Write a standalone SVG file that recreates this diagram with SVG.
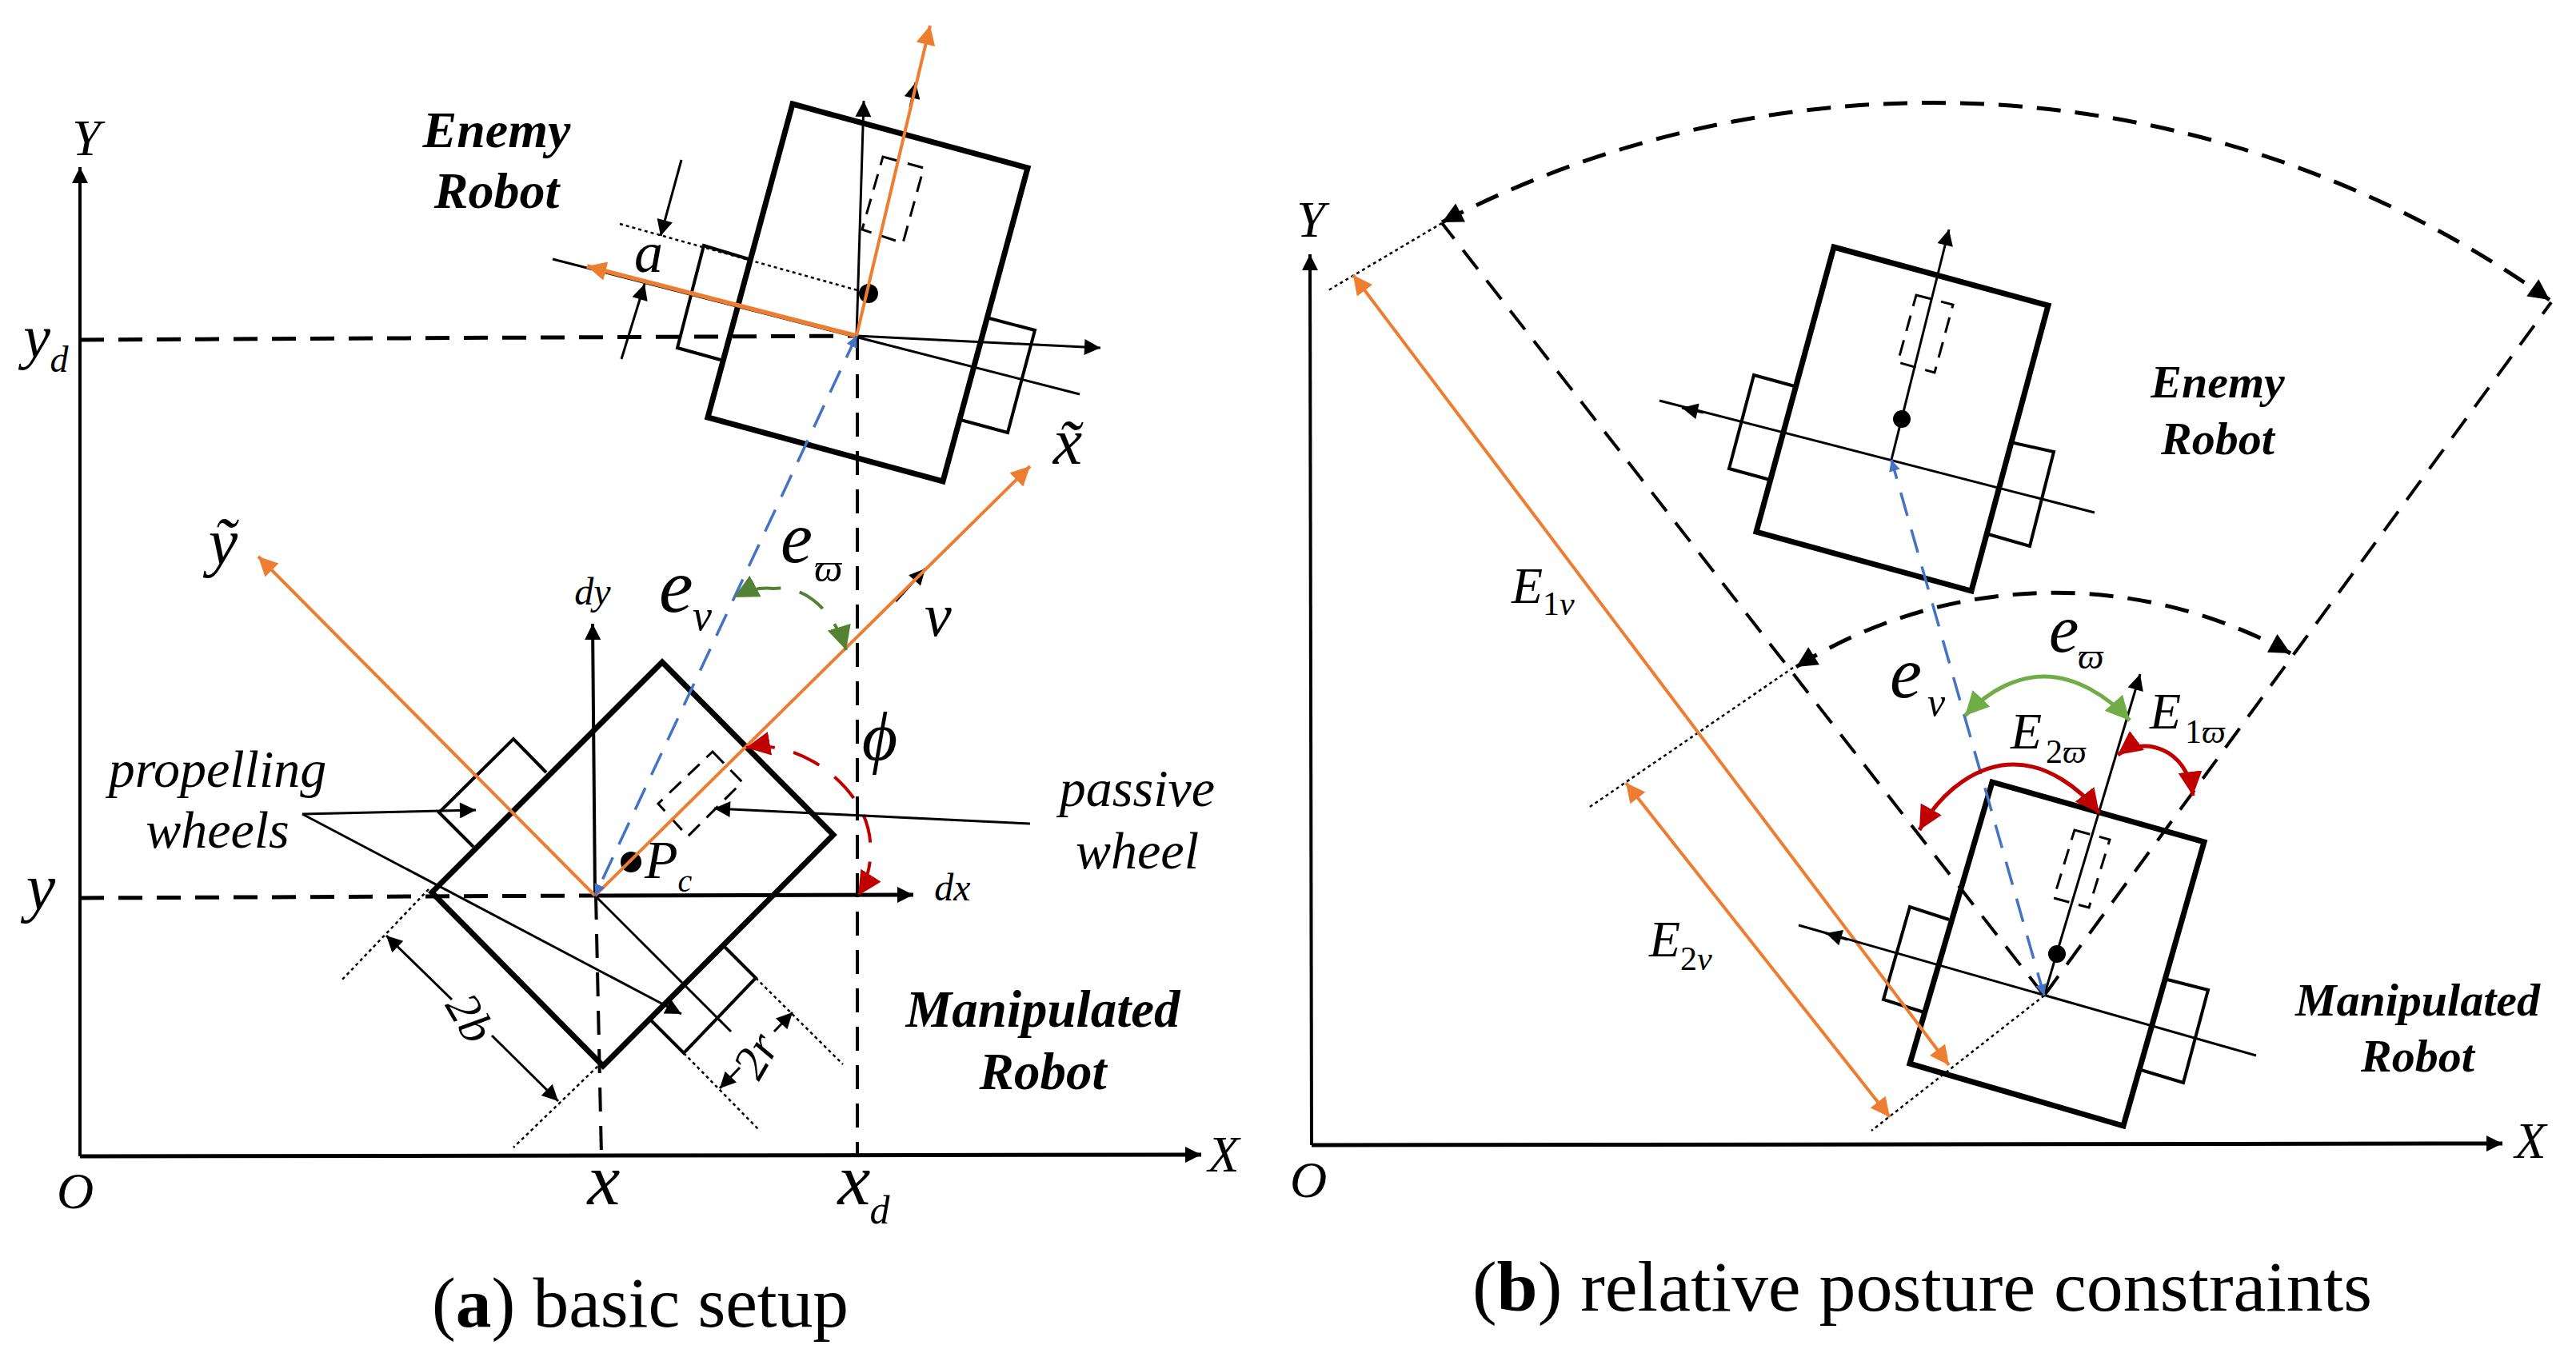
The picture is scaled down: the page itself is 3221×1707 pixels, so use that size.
<svg xmlns="http://www.w3.org/2000/svg" width="3221" height="1707" viewBox="0 0 3221 1707">
<style>
text{font-family:"Liberation Serif","Times New Roman",serif;fill:#000}
.i{font-style:italic}
.bi{font-style:italic;font-weight:bold}
.m{text-anchor:middle}
.body{fill:none;stroke:#000;stroke-width:7}
.wheel{fill:none;stroke:#000;stroke-width:4}
.pas{fill:none;stroke:#000;stroke-width:3;stroke-dasharray:20 12}
.l{fill:none;stroke:#000;stroke-width:3}
.ax{fill:none;stroke:#000;stroke-width:4}
.axb{fill:none;stroke:#000;stroke-width:5}
.dash{fill:none;stroke:#000;stroke-width:4;stroke-dasharray:30 18}
.dashb{fill:none;stroke:#000;stroke-width:5;stroke-dasharray:30 18}
.dot{fill:none;stroke:#000;stroke-width:2.5;stroke-dasharray:4 4}
.or{fill:none;stroke:#ED7D31;stroke-width:4}
.bl{fill:none;stroke:#4472C4;stroke-width:3.5;stroke-dasharray:30 18}
.gr{fill:none;stroke:#548235;stroke-width:4;stroke-dasharray:36 24}
.gl{fill:none;stroke:#70AD47;stroke-width:5}
.rd{fill:none;stroke:#C00000;stroke-width:4;stroke-dasharray:36 24}
.rs{fill:none;stroke:#C00000;stroke-width:5}
</style>
<defs>
<marker id="k" viewBox="0 0 10 10" refX="10" refY="5" markerWidth="22" markerHeight="20" markerUnits="userSpaceOnUse" orient="auto-start-reverse"><path d="M0,0L10,5L0,10z" fill="#000"/></marker>
<marker id="k2" viewBox="0 0 10 10" refX="10" refY="5" markerWidth="30" markerHeight="26" markerUnits="userSpaceOnUse" orient="auto-start-reverse"><path d="M0,0L10,5L0,10z" fill="#000"/></marker>
<marker id="o" viewBox="0 0 10 10" refX="10" refY="5" markerWidth="28" markerHeight="24" markerUnits="userSpaceOnUse" orient="auto-start-reverse"><path d="M0,0L10,5L0,10z" fill="#ED7D31"/></marker>
<marker id="b" viewBox="0 0 10 10" refX="10" refY="5" markerWidth="20" markerHeight="14" markerUnits="userSpaceOnUse" orient="auto-start-reverse"><path d="M0,0L10,5L0,10z" fill="#4472C4"/></marker>
<marker id="g" viewBox="0 0 10 10" refX="10" refY="5" markerWidth="30" markerHeight="30" markerUnits="userSpaceOnUse" orient="auto-start-reverse"><path d="M0,0L10,5L0,10z" fill="#548235"/></marker>
<marker id="gl" viewBox="0 0 10 10" refX="10" refY="5" markerWidth="30" markerHeight="30" markerUnits="userSpaceOnUse" orient="auto-start-reverse"><path d="M0,0L10,5L0,10z" fill="#70AD47"/></marker>
<marker id="r" viewBox="0 0 10 10" refX="10" refY="5" markerWidth="30" markerHeight="30" markerUnits="userSpaceOnUse" orient="auto-start-reverse"><path d="M0,0L10,5L0,10z" fill="#C00000"/></marker>
</defs>

<g id="robot-enemy-a">
<polygon class="body" points="991,130 1285,210 1179,602 885,522"/>
<polyline class="wheel" points="936,324 880,307 847,435 901,450"/>
<polyline class="wheel" points="1237,398 1294,413 1260,541 1201,525"/>
<polygon class="pas" points="1104,196 1155,210 1129,304 1078,287"/>
<circle cx="1086" cy="367" r="12"/>
</g>
<g id="robot-manipulated-a">
<polygon class="body" points="828,828 1042,1044 754,1333 540,1116"/>
<polyline class="wheel" points="683,966 642,924 549,1016 592,1059"/>
<polyline class="wheel" points="903,1181 945,1223 855,1317 811,1273"/>
<polygon class="pas" points="891,940 928,978 860,1046 823,1005"/>
<circle cx="789" cy="1078" r="13"/>
</g>
<g id="robot-enemy-b">
<polygon class="body" points="2293,309 2561,382 2465,739 2196,665"/>
<polyline class="wheel" points="2244,483 2193,469 2162,586 2213,600"/>
<polyline class="wheel" points="2514,553 2568,565 2538,683 2486,668"/>
<polygon class="pas" points="2396,369 2442,381 2419,466 2373,453"/>
<circle cx="2378" cy="524" r="11"/>
</g>
<g id="robot-manipulated-b">
<polygon class="body" points="2491,978 2756,1053 2655,1408 2388,1330"/>
<polyline class="wheel" points="2437,1150 2388,1134 2355,1250 2406,1266"/>
<polyline class="wheel" points="2710,1225 2761,1238 2730,1354 2677,1338"/>
<polygon class="pas" points="2594,1038 2638,1050 2612,1135 2568,1123"/>
<circle cx="2572" cy="1193" r="11"/>
</g>

<g id="connectors">
<path class="ax" d="M100,1446L100,209" marker-end="url(#k)"/>
<path class="axb" d="M100,1446L1502,1444" marker-end="url(#k)"/>
<path class="dashb" d="M100,425L1071,420"/>
<path class="dashb" d="M100,1123L744,1120"/>
<path class="dash" d="M745,1120L752,1446"/>
<path class="dash" d="M1072,420L1072,1446"/>
<path class="l" d="M1071,420L1080,126" marker-end="url(#k)"/>
<path class="l" d="M1071,420L1376,435" marker-end="url(#k)"/>
<path class="l" d="M691,324L1350,493"/>
<path class="l" d="M1138,134L1145,103" marker-end="url(#k)"/>
<path class="or" d="M1071,420L1163,32" marker-end="url(#o)"/>
<path class="or" style="stroke-width:5.5" d="M1071,420L734,333" marker-end="url(#o)"/>
<path class="dot" d="M775,280L1083,366"/>
<path class="l" d="M852,200L826,295" marker-end="url(#k)"/>
<path class="l" d="M777,449L806,355" marker-end="url(#k)"/>
<path class="ax" d="M744,1120L741,780" marker-end="url(#k)"/>
<path class="axb" d="M744,1120L1142,1119" marker-end="url(#k)"/>
<path class="l" d="M744,1120L914,1290"/>
<path class="l" d="M1120,752L1157,711" marker-end="url(#k)"/>
<path class="or" d="M744,1120L1288,583" marker-end="url(#o)"/>
<path class="or" d="M744,1120L323,696" marker-end="url(#o)"/>
<path class="bl" d="M1071,420L744,1120" marker-start="url(#b)" marker-end="url(#b)"/>
<path class="gr" d="M1058,813C1045,770 1010,730 967,736C950,734 935,738 918,747" marker-start="url(#g)" marker-end="url(#g)"/>
<path class="rd" d="M933,935C990,925 1050,965 1075,1010C1095,1045 1092,1090 1073,1120" marker-start="url(#r)" marker-end="url(#r)"/>
<path class="l" d="M1288,1030L893,1011" marker-end="url(#k)"/>
<path class="l" d="M378,1018L595,1013" marker-end="url(#k)"/>
<path class="l" d="M378,1018L852,1268" marker-end="url(#k)"/>
<path class="dot" d="M536,1112L426,1227"/>
<path class="dot" d="M753,1328L642,1435"/>
<path class="dot" d="M855,1317L950,1414"/>
<path class="dot" d="M945,1223L1054,1331"/>
<path class="l" d="M565,1250L483,1170" marker-end="url(#k)"/>
<path class="l" d="M615,1295L698,1377" marker-end="url(#k)"/>
<path class="l" d="M925,1335L900,1361" marker-end="url(#k)"/>
<path class="l" d="M968,1290L991,1266" marker-end="url(#k)"/>
<path class="ax" d="M1640,1432L1638,318" marker-end="url(#k)"/>
<path class="axb" d="M1640,1432L3129,1430" marker-end="url(#k)"/>
<path class="dash" d="M2556,1245L1803,279"/>
<path class="dash" d="M2556,1245L3190,378"/>
<path class="dashb" d="M1803,278A1332,1332 0 0 1 3188,375" marker-start="url(#k2)" marker-end="url(#k2)"/>
<path class="dashb" d="M2246,834A611,611 0 0 1 2864,817" marker-start="url(#k2)" marker-end="url(#k2)"/>
<path class="dot" d="M1803,279L1661,363"/>
<path class="dot" d="M2242,835L1985,1011"/>
<path class="dot" d="M2556,1245L2340,1414"/>
<path class="or" d="M1692,344L2437,1332" marker-start="url(#o)" marker-end="url(#o)"/>
<path class="or" d="M2033,979L2363,1397" marker-start="url(#o)" marker-end="url(#o)"/>
<path class="l" d="M2365,575L2437,287" marker-end="url(#k)"/>
<path class="l" d="M2075,501L2619,641"/>
<path class="l" d="M2130,516L2103,510" marker-end="url(#k)"/>
<path class="l" d="M2556,1245L2676,843" marker-end="url(#k)"/>
<path class="l" d="M2249,1157L2821,1320"/>
<path class="l" d="M2310,1175L2283,1167" marker-end="url(#k)"/>
<path class="bl" d="M2556,1245L2365,575" marker-start="url(#b)" marker-end="url(#b)"/>
<path class="gl" d="M2457,895C2490,860 2525,846 2556,846C2595,846 2635,870 2663,901" marker-start="url(#gl)" marker-end="url(#gl)"/>
<path class="rs" d="M2648,944C2680,920 2735,935 2742,995" marker-start="url(#r)" marker-end="url(#r)"/>
<path class="rs" d="M2400,1038C2430,985 2475,956 2518,956C2560,956 2600,985 2625,1017" marker-start="url(#r)" marker-end="url(#r)"/>
</g>

<g id="labels-a">
<text class="i m" x="108" y="194" font-size="64">Y</text>
<text class="i m" x="46" y="447" font-size="76">y</text>
<text class="i m" x="74" y="465" font-size="46">d</text>
<text class="bi m" x="621" y="184" font-size="64">Enemy</text>
<text class="bi m" x="621" y="260" font-size="64">Robot</text>
<text class="i m" x="811" y="340" font-size="72">a</text>
<text class="i m" x="1335" y="580" font-size="82">x̃</text>
<text class="i m" x="279" y="705" font-size="82">ỹ</text>
<text class="i m" x="741" y="756" font-size="48">dy</text>
<text class="i" x="824" y="765" font-size="96">e</text>
<text class="i" x="866" y="788" font-size="54">v</text>
<text class="i" x="976" y="703" font-size="90">e</text>
<text class="i" x="1018" y="727" font-size="50">ϖ</text>
<text class="i" x="1156" y="795" font-size="76">v</text>
<text class="i m" x="1100" y="950" font-size="86">ϕ</text>
<text class="i" x="806" y="1098" font-size="68">P<tspan dy="17" font-size="40">c</tspan></text>
<text class="i m" x="1191" y="1126" font-size="48">dx</text>
<text class="i m" x="51" y="1137" font-size="82">y</text>
<text class="i m" x="272" y="984" font-size="66">propelling</text>
<text class="i m" x="272" y="1060" font-size="66">wheels</text>
<text class="i m" x="1422" y="1008" font-size="66">passive</text>
<text class="i m" x="1422" y="1086" font-size="66">wheel</text>
<text class="bi m" x="1304" y="1284" font-size="65">Manipulated</text>
<text class="bi m" x="1304" y="1362" font-size="65">Robot</text>
<text class="i m" font-size="60" transform="translate(588,1273) rotate(60) translate(0,20)">2b</text>
<text class="i m" font-size="60" transform="translate(945,1320) rotate(-60) translate(0,20)">2r</text>
<text class="i m" x="755" y="1506" font-size="92">x</text>
<text class="i m" x="1068" y="1506" font-size="92">x</text>
<text class="i m" x="1100" y="1530" font-size="50">d</text>
<text class="i m" x="1530" y="1465" font-size="64">X</text>
<text class="i m" x="94" y="1511" font-size="64">O</text>
<text x="540" y="1659" font-size="88" textLength="521" lengthAdjust="spacingAndGlyphs">(<tspan font-weight="bold">a</tspan>) basic setup</text>
</g>
<g id="labels-b">
<text class="i m" x="1639" y="296" font-size="64">Y</text>
<text class="i m" x="3164" y="1448" font-size="64">X</text>
<text class="i m" x="1636" y="1497" font-size="64">O</text>
<text class="bi m" x="2773" y="497" font-size="58">Enemy</text>
<text class="bi m" x="2773" y="568" font-size="58">Robot</text>
<text class="bi m" x="3023" y="1270" font-size="58">Manipulated</text>
<text class="bi m" x="3023" y="1340" font-size="58">Robot</text>
<text class="i" x="1890" y="754" font-size="64">E</text>
<text x="1929" y="769" font-size="42">1<tspan class="i">v</tspan></text>
<text class="i" x="2062" y="1196" font-size="64">E</text>
<text x="2101" y="1213" font-size="42">2<tspan class="i">v</tspan></text>
<text class="i" x="2514" y="936" font-size="64">E</text>
<text x="2558" y="954" font-size="42">2<tspan class="i">ϖ</tspan></text>
<text class="i" x="2688" y="911" font-size="64">E</text>
<text x="2732" y="929" font-size="42">1<tspan class="i">ϖ</tspan></text>
<text class="i" x="2562" y="815" font-size="84">e</text>
<text class="i" x="2598" y="836" font-size="46">ϖ</text>
<text class="i" x="2363" y="872" font-size="90">e</text>
<text class="i" x="2410" y="895" font-size="50">v</text>
<text x="1841" y="1639" font-size="88" textLength="1125" lengthAdjust="spacingAndGlyphs">(<tspan font-weight="bold">b</tspan>) relative posture constraints</text>
</g>
</svg>
